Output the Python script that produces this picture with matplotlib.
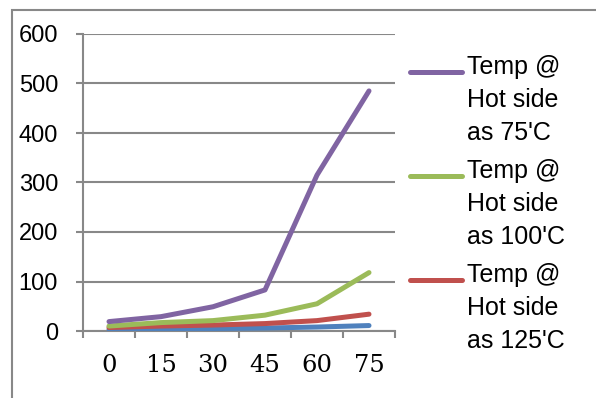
import matplotlib
matplotlib.use("Agg")
import matplotlib.pyplot as plt
from matplotlib.lines import Line2D
from matplotlib.patches import Rectangle

# Data
categories = ["0", "15", "30", "45", "60", "75"]
temp_75 = [19, 29, 49, 83, 315, 485]
temp_100 = [10, 17, 21, 32, 55, 118]
temp_125 = [7, 10, 12, 15, 21, 34]
temp_base = [3, 4, 5, 6, 8, 11]
series_names = ["Temp @\nHot side\nas 75'C", "Temp @\nHot side\nas 100'C", "Temp @\nHot side\nas 125'C"]
y_ticks = [0, 100, 200, 300, 400, 500, 600]

colors = ["#8064A2", "#9BBB59", "#C0504D", "#4F81BD"]
grid_c = "#888888"

W, H = 596, 398
fig = plt.figure(figsize=(W / 100, H / 100), dpi=100)

def fx(px):
    return px / W

def fy(py):
    return 1 - py / H

# Outer chart frame (runs off the right and bottom edges)
fig.add_artist(Rectangle((fx(12), fy(420)), fx(620), fy(10) - fy(420),
                         transform=fig.transFigure, fill=False,
                         edgecolor=grid_c, linewidth=1.5))

ax = fig.add_axes([fx(83), fy(331), fx(395) - fx(83), fy(34) - fy(331)])
x = list(range(len(categories)))

ax.plot(x, temp_base, color=colors[3], lw=3.6, solid_capstyle="round", zorder=3)
ax.plot(x, temp_125, color=colors[2], lw=3.6, solid_capstyle="round", zorder=4)
ax.plot(x, temp_100, color=colors[1], lw=3.6, solid_capstyle="round", zorder=5)
ax.plot(x, temp_75, color=colors[0], lw=3.6, solid_capstyle="round", zorder=6)

ax.set_xlim(-0.5, len(categories) - 0.5)
ax.set_ylim(0, 600)
ax.set_yticks(y_ticks)
ax.set_yticklabels([str(v) for v in y_ticks], fontfamily="Liberation Sans", fontsize=17)
ax.yaxis.grid(True, color=grid_c, lw=1.5)
ax.set_axisbelow(True)
ax.tick_params(axis="y", length=5, width=1.5, color=grid_c, pad=13)

# Category boundaries as x tick marks, labels at centres
ax.set_xticks([i - 0.5 for i in range(len(categories) + 1)])
ax.set_xticklabels([])
ax.set_xticks(x, minor=True)
ax.set_xticklabels(categories, minor=True, fontfamily="DejaVu Serif", fontsize=17.5)
ax.tick_params(axis="x", which="major", length=5, width=1.5, color=grid_c)
ax.tick_params(axis="x", which="minor", length=0, pad=16.5)

for s in ["top", "right"]:
    ax.spines[s].set_visible(False)
for s in ["left", "bottom"]:
    ax.spines[s].set_color(grid_c)
    ax.spines[s].set_linewidth(1.5)
ax.spines["bottom"].set_zorder(2)

# Legend drawn by hand: handle aligned with the first of three text lines
legend_y = [72, 176, 280]
line_step = 30
for name, c, ly in zip(series_names, colors[:3], legend_y):
    fig.add_artist(Line2D([fx(410), fx(462)], [fy(ly), fy(ly)], transform=fig.transFigure,
                          color=c, lw=3.6, solid_capstyle="round"))
    fig.text(fx(467), fy(ly + 8 + 2 * line_step), name, transform=fig.transFigure,
             ha="left", va="baseline",
             fontfamily="Liberation Sans", fontsize=18, linespacing=1.47)

fig.savefig("out.png", dpi=100)
